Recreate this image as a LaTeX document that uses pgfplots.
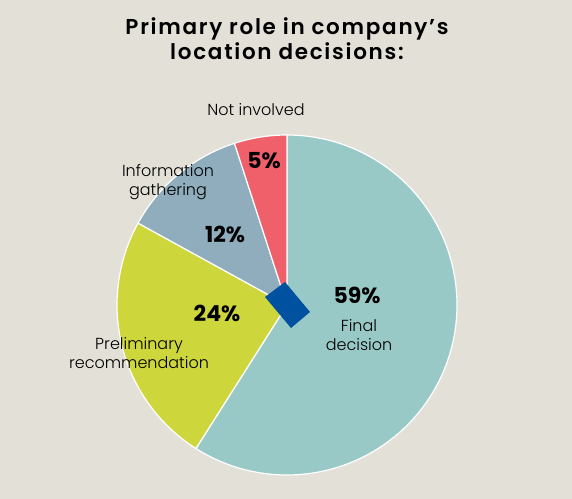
\documentclass[border=0pt]{standalone}
\usepackage{pgfplots}
\pgfplotsset{compat=1.18}
\usepackage{fontspec}
\setmainfont{Poppins}
\newfontfamily\lightfont{Poppins Light}
\newfontfamily\titlefont{Poppins SemiBold}[LetterSpace=8]
\definecolor{bg}{HTML}{E3E0D8}
\definecolor{cFinal}{HTML}{99C9C6}
\definecolor{cPrelim}{HTML}{CDD73C}
\definecolor{cInfo}{HTML}{8FADBD}
\definecolor{cNot}{HTML}{F0606A}
\definecolor{cDia}{HTML}{0052A0}
% shares (percent)
\def\vFinal{59}\def\vPrelim{24}\def\vInfo{12}\def\vNot{5}
\pgfmathsetmacro\aA{90}
\pgfmathsetmacro\aB{\aA-3.6*\vFinal}
\pgfmathsetmacro\aC{\aB-3.6*\vPrelim}
\pgfmathsetmacro\aD{\aC-3.6*\vInfo}
\pgfmathsetmacro\aE{\aD-3.6*\vNot}
\begin{document}
\begin{tikzpicture}
\begin{axis}[
  width=572bp, height=499bp, scale only axis,
  xmin=0, xmax=572, ymin=0, ymax=499,
  hide axis, clip=false,
]
\fill[bg] (0,0) rectangle (572,499);
\addplot[fill=cFinal, draw=white, line width=1.2pt, domain=\aB:\aA, samples=120, variable=\t]
  ({287+170*cos(\t)},{194+170*sin(\t)}) -- (287,194) -- cycle;
\addplot[fill=cPrelim, draw=white, line width=1.2pt, domain=\aC:\aB, samples=60, variable=\t]
  ({287+170*cos(\t)},{194+170*sin(\t)}) -- (287,194) -- cycle;
\addplot[fill=cInfo, draw=white, line width=1.2pt, domain=\aD:\aC, samples=40, variable=\t]
  ({287+170*cos(\t)},{194+170*sin(\t)}) -- (287,194) -- cycle;
\addplot[fill=cNot, draw=white, line width=1.2pt, domain=\aE:\aD, samples=20, variable=\t]
  ({287+170*cos(\t)},{194+170*sin(\t)}) -- (287,194) -- cycle;
\addplot[fill=cDia, draw=none] coordinates {(285,217) (310,187) (291,171) (265,202)} -- cycle;
% title
\node[font=\titlefont\fontsize{21.5bp}{25bp}\selectfont, align=center] at (287,460) {Primary role in company’s\\location decisions:};
% labels
\node[font=\lightfont\fontsize{16bp}{19bp}\selectfont, align=center] at (256,389) {Not involved};
\node[font=\lightfont\fontsize{16bp}{19bp}\selectfont, align=center] at (168,317) {Information\\gathering};
\node[font=\lightfont\fontsize{16bp}{19bp}\selectfont, align=center] at (139,146) {Preliminary\\recommendation};
\node[font=\lightfont\fontsize{16bp}{19bp}\selectfont, align=center] at (359,164) {Final\\decision};
% percentages
\node[font=\bfseries\fontsize{22bp}{24bp}\selectfont] at (357,204) {59\%};
\node[font=\bfseries\fontsize{22bp}{24bp}\selectfont] at (217,186) {24\%};
\node[font=\bfseries\fontsize{22bp}{24bp}\selectfont] at (225,265) {12\%};
\node[font=\bfseries\fontsize{22bp}{24bp}\selectfont] at (264,338) {5\%};
\end{axis}
\end{tikzpicture}
\end{document}
